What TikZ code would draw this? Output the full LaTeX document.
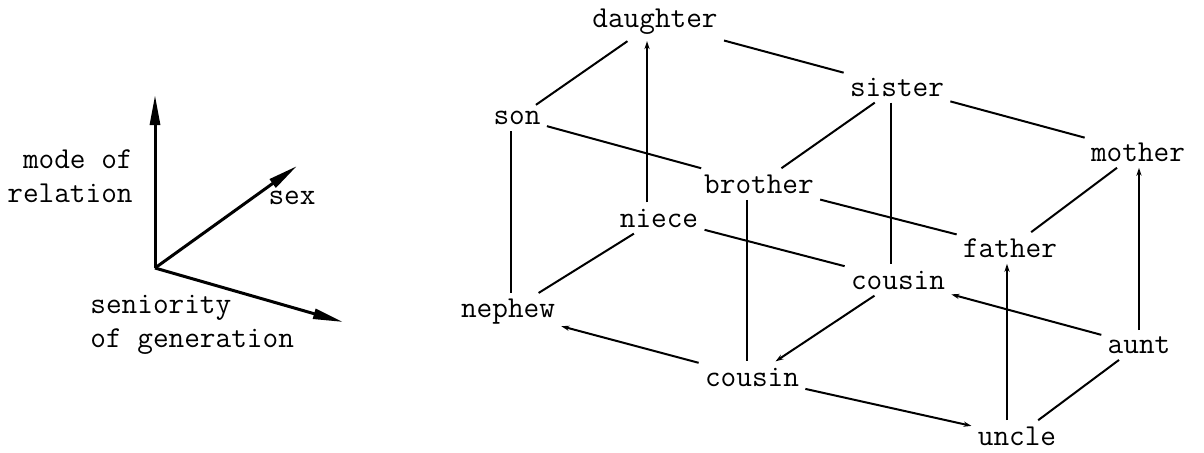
\documentclass[tikz,border=0pt]{standalone}
\usetikzlibrary{arrows.meta}
\begin{document}
\begin{tikzpicture}[x=0.5pt,y=-0.5pt,
  term/.style={font=\ttfamily\fontsize{15.2}{17}\selectfont, inner sep=3pt},
  edge/.style={line width=1pt},
  tip/.style={edge,-{Stealth[length=4pt,width=2.6pt]}},
  axis/.style={line width=1.5pt,-{Triangle[length=15pt,width=5pt]}}]
\useasboundingbox (0,0) rectangle (1204,452);
% axes
\coordinate (O) at (155,268);
\coordinate (up) at (155,95);
\coordinate (sx) at (297,166);
\coordinate (sen) at (343,322);
\draw[axis] (O) -- (up);
\draw[axis] (O) -- (sx);
\draw[axis] (O) -- (sen);
\node[term,anchor=east,align=right] (mode) at (139,176) {mode of\\relation};
\node[term] (sex) at (292,198) {sex};
\node[term,anchor=west,align=left] (sen lbl) at (84,325) {seniority\\of generation};
% cube terms
\node[term] (daughter) at (655,22) {daughter};
\node[term] (son) at (517,118) {son};
\node[term] (sister) at (897,87) {sister};
\node[term] (mother) at (1138,152) {mother};
\node[term] (brother) at (759,184) {brother};
\node[term] (father) at (1010,248) {father};
\node[term] (niece) at (659,218) {niece};
\node[term] (cousinU) at (898,280) {cousin};
\node[term] (nephew) at (508,312) {nephew};
\node[term] (cousinL) at (752,377) {cousin};
\node[term] (aunt) at (1139,345) {aunt};
\node[term] (uncle) at (1017,436) {uncle};
% top face
\draw[edge] (daughter) -- (son);
\draw[edge] (daughter) -- (sister);
\draw[edge] (son) -- (brother);
\draw[edge] (sister) -- (brother);
\draw[edge] (sister) -- (mother);
\draw[edge] (brother) -- (father);
\draw[edge] (mother) -- (father);
% verticals
\draw[tip] ([xshift=-6]niece.north) -- ([xshift=-4]daughter.south);
\draw[edge] ([xshift=-3]son.south) -- ([xshift=-3]son.south |- nephew.north);
\draw[edge] ([xshift=-6]brother.south) -- ([xshift=-6]brother.south |- cousinL.north);
\draw[edge] ([xshift=-3]sister.south) -- ([xshift=-3]sister.south |- cousinU.north);
\draw[tip] (aunt.north) -- (aunt.north |- mother.south);
\draw[tip] ([xshift=-5]uncle.north) -- ([xshift=-5]uncle.north |- father.south);
% bottom face
\draw[edge] (niece) -- (nephew);
\draw[edge] (niece) -- (cousinU);
\draw[tip] (cousinL) -- (nephew);
\draw[tip] (cousinU) -- (cousinL);
\draw[tip] (aunt) -- (cousinU);
\draw[tip] (cousinL) -- (uncle);
\draw[edge] (aunt) -- (uncle);
\end{tikzpicture}
\end{document}
